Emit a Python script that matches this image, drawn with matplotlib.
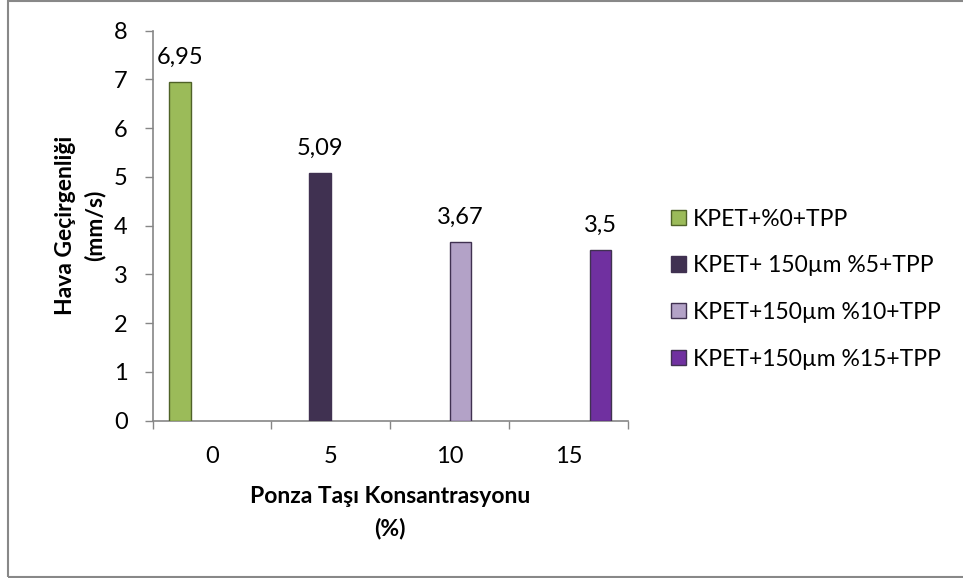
import numpy as np
import matplotlib.pyplot as plt
from matplotlib.patches import Rectangle

plt.rcParams['font.family'] = ['Lato', 'DejaVu Sans']

# Air permeability by pumice concentration
categories = ['0', '5', '10', '15']
series_names = ['KPET+%0+TPP', 'KPET+ 150µm %5+TPP',
                'KPET+150µm %10+TPP', 'KPET+150µm %15+TPP']
values = [6.95, 5.09, 3.67, 3.5]
value_labels = ['6,95', '5,09', '3,67', '3,5']
fill_colors = ['#9BBB59', '#403151', '#B3A2C7', '#7030A0']
edge_colors = ['#4F6228', '#403151', '#403151', '#403151']

fig = plt.figure(figsize=(9.63, 5.78), dpi=100)
ax = fig.add_axes([0.1586, 0.2721, 0.4932, 0.6748])

x = np.arange(len(categories))
w = 0.18
for i, name in enumerate(series_names):
    pos = x[i] + (i - 1.5) * w
    ax.bar(pos, values[i], width=w, color=fill_colors[i],
           edgecolor=edge_colors[i], linewidth=1.0, label=name, zorder=3)
    ax.annotate(value_labels[i], (pos, values[i]), xytext=(0, 10),
                textcoords='offset points', ha='center', va='bottom',
                fontsize=17, color='#000000')

ax.set_xlim(-0.5, len(categories) - 0.5)
ax.set_ylim(0, 8)
ax.set_yticks(range(0, 9))
ax.tick_params(axis='y', direction='out', length=6, width=1,
               color='#868686', labelsize=17, pad=12)
ax.set_xticks(x)
ax.set_xticklabels(categories)
ax.set_xticks(np.arange(-0.5, len(categories)), minor=True)
ax.tick_params(axis='x', which='major', length=0, labelsize=17, pad=18)
ax.tick_params(axis='x', which='minor', direction='out', length=6,
               width=1, color='#868686')

for side in ['top', 'right']:
    ax.spines[side].set_visible(False)
for side in ['left', 'bottom']:
    ax.spines[side].set_color('#868686')
    ax.spines[side].set_linewidth(1.2)

ax.set_ylabel('Hava Geçirgenliği\n(mm/s)', fontsize=16.5, fontweight='bold',
              linespacing=1.45, labelpad=6)
ax.set_xlabel('Ponza Taşı Konsantrasyonu\n(%)', fontsize=16.5,
              fontweight='bold', linespacing=1.6, labelpad=14)

fig.legend(loc='center left', bbox_to_anchor=(0.6965, 0.5), frameon=False,
           fontsize=16.5, handlelength=0.65, handleheight=0.65,
           handletextpad=0.3, labelspacing=1.12, borderpad=0,
           borderaxespad=0)

# chart area border
fig.patches.append(Rectangle((8 / 963, 1 / 578), 1.0, 576 / 578,
                             transform=fig.transFigure, fill=False,
                             edgecolor='#888888', linewidth=1.5))

fig.savefig('out.png', dpi=100)
